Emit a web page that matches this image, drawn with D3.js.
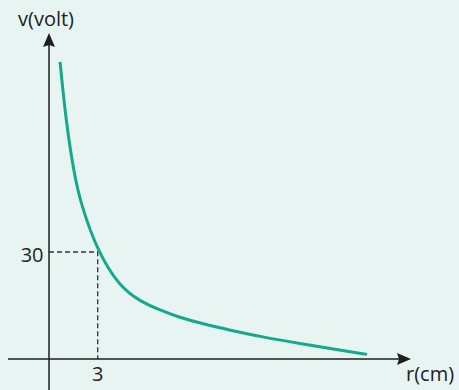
<!DOCTYPE html>
<html><head><meta charset="utf-8">
<script src="https://cdn.jsdelivr.net/npm/d3@7"></script>
<style>html,body{margin:0;padding:0;background:#e8f4f2;}svg{display:block;}</style>
</head><body>
<svg id="c" width="459" height="390"></svg>
<script>
// Data
const rValues = [0.68, 1.05, 1.56, 1.95, 3, 4.37, 5.61, 6.84, 7.87, 9.51, 11.15, 12.99, 15.46, 17.93, 19.59];
const vValues = [83.3, 66.5, 51.6, 43.7, 30, 20.2, 16.2, 13.7, 11.9, 9.8, 8.1, 6.3, 4.3, 2.5, 1.3];
const markR = [3];
const markV = [30];
const xTickLabels = ["3"];
const yTickLabels = ["30"];
const xAxisTitle = "r(cm)";
const yAxisTitle = "v(volt)";

const svg = d3.select("#c");
const W = 459, H = 390;
const x = d3.scaleLinear().domain([0, 3]).range([49, 97.7]);
const y = d3.scaleLinear().domain([0, 30]).range([359, 252]);
const font = "'Open Sans', 'Noto Sans', sans-serif";
const fs = 20;

svg.append("rect").attr("width", W).attr("height", H).attr("fill", "#e8f4f2");

// dashed guides
svg.append("path")
  .attr("d", `M${x(0)},${y(markV[0])}H${x(markR[0])}V${y(0)}`)
  .attr("fill", "none").attr("stroke", "#333").attr("stroke-width", 1.3)
  .attr("stroke-dasharray", "5,3");

// axes
const axisColor = "#1e1e1e";
const ox = x(0), oy = y(0);
svg.append("line").attr("x1", 8).attr("x2", 400).attr("y1", oy).attr("y2", oy)
  .attr("stroke", axisColor).attr("stroke-width", 1.5);
svg.append("line").attr("x1", ox).attr("x2", ox).attr("y1", 390).attr("y2", 44)
  .attr("stroke", axisColor).attr("stroke-width", 1.5);
// arrows
svg.append("path").attr("d", `M${ox},33 L${ox+6},47 L${ox},45 L${ox-6},47Z`).attr("fill", axisColor);
svg.append("path").attr("d", `M411,${oy} L397,${oy-6} L399,${oy} L397,${oy+6}Z`).attr("fill", axisColor);

// curve
const pts = rValues.map((r, i) => [r, vValues[i]]);
const line = d3.line().x(d => x(d[0])).y(d => y(d[1])).curve(d3.curveBasis);
svg.append("path").datum(pts).attr("d", line)
  .attr("fill", "none").attr("stroke", "#15a98c").attr("stroke-width", 3)
  .attr("stroke-linecap", "butt");

// tick labels
svg.append("text").text(yTickLabels[0]).attr("x", 43.5).attr("y", 261.5)
  .attr("text-anchor", "end")
  .attr("font-family", font).attr("font-size", fs).attr("fill", "#222");
svg.append("text").text(xTickLabels[0]).attr("x", x(markR[0])).attr("y", 381)
  .attr("text-anchor", "middle")
  .attr("font-family", font).attr("font-size", fs).attr("fill", "#222");

// axis titles
svg.append("text").text(yAxisTitle).attr("x", 18).attr("y", 26)
  .attr("font-family", font).attr("font-size", fs).attr("fill", "#222");
svg.append("text").text(xAxisTitle).attr("x", 406).attr("y", 381)
  .attr("font-family", font).attr("font-size", fs).attr("fill", "#222");
</script>
</body></html>
